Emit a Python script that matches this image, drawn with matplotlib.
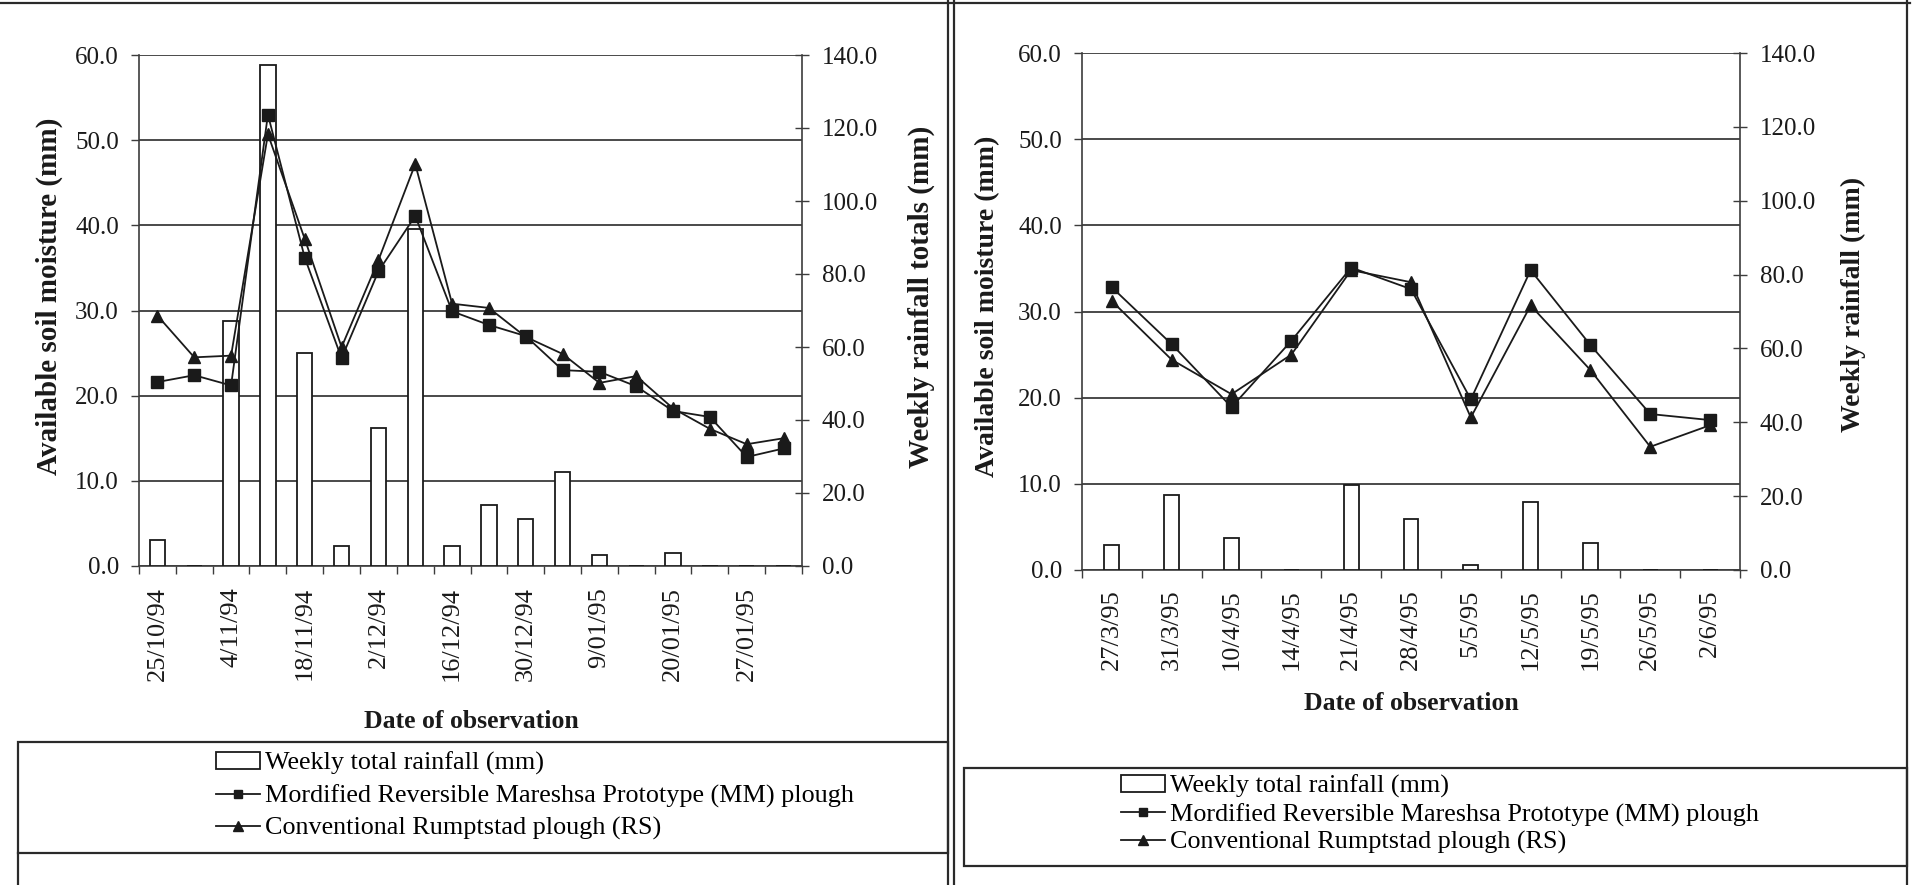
import matplotlib
matplotlib.use("Agg")
import matplotlib.pyplot as plt
from matplotlib.patches import Patch, Rectangle
from matplotlib.lines import Line2D
import numpy as np

# ---- Season 1 (Oct 1994 - Jan 1995) ----
dates_a = ['25/10/94', '', '4/11/94', '', '18/11/94', '', '2/12/94', '',
           '16/12/94', '', '30/12/94', '', '9/01/95', '', '20/01/95', '',
           '27/01/95', '']
rain_a = [7.0, 0.0, 67.0, 137.2, 58.4, 5.6, 37.7, 92.4, 5.6, 16.7, 12.8,
          25.8, 2.9, 0.0, 3.5, 0.0, 0.0, 0.0]
mm_a = [21.6, 22.4, 21.2, 53.0, 36.2, 24.4, 34.6, 41.1, 29.9, 28.3, 27.0,
        23.0, 22.8, 21.1, 18.2, 17.5, 12.8, 13.8]
rs_a = [29.4, 24.5, 24.7, 50.7, 38.4, 25.7, 35.9, 47.2, 30.8, 30.3, 26.9,
        24.9, 21.5, 22.3, 18.5, 16.1, 14.3, 15.0]

# ---- Season 2 (Mar - Jun 1995) ----
dates_b = ['27/3/95', '31/3/95', '10/4/95', '14/4/95', '21/4/95', '28/4/95',
           '5/5/95', '12/5/95', '19/5/95', '26/5/95', '2/6/95']
rain_b = [6.9, 20.4, 8.8, 0.0, 22.9, 13.7, 1.3, 18.5, 7.2, 0.0, 0.0]
mm_b = [32.8, 26.2, 18.9, 26.6, 35.1, 32.6, 19.8, 34.8, 26.1, 18.1, 17.4]
rs_b = [31.2, 24.4, 20.4, 25.0, 34.8, 33.4, 17.7, 30.7, 23.2, 14.3, 16.8]

rain_label = 'Weekly total rainfall (mm)'
mm_label = 'Mordified Reversible Mareshsa Prototype (MM) plough'
rs_label = 'Conventional Rumptstad plough (RS)'

SERIF = 'Liberation Serif'
INK = '#1a1a1a'
GRID = '#3c3c3c'

W, H = 1914, 885
fig = plt.figure(figsize=(W / 100, H / 100), dpi=100)
fig.patch.set_facecolor('white')


def fx(px):
    return px / W


def fy(py):
    return 1 - py / H


def panel(rect, dates, rain, mm, rs, bar_w, ylab_l, ylab_r, fs_lab,
          ylab_l_pos, ylab_r_pos, xlab_pos, xpad):
    x0, y0, x1, y1 = rect
    ax = fig.add_axes([fx(x0), fy(y1), fx(x1 - x0), (y1 - y0) / H])
    n = len(dates)
    x = np.arange(n)

    # soil-moisture axis (left) with its horizontal grid
    ax.set_xlim(-0.5, n - 0.5)
    ax.set_ylim(0, 60)
    ax.set_yticks(np.arange(0, 61, 10))
    ax.set_yticklabels([f'{v:.1f}' for v in np.arange(0, 61, 10)],
                       fontfamily=SERIF, fontsize=18, color=INK)
    ax.grid(axis='y', color=GRID, lw=1.3)
    ax.set_axisbelow(True)
    ax.tick_params(axis='y', direction='out', length=5.5, width=1.0,
                   color=GRID, pad=9)
    ax.set_xticks(x)
    ax.set_xticklabels(dates, rotation=90, fontfamily=SERIF, fontsize=19,
                       color=INK)
    ax.tick_params(axis='x', which='major', length=0, pad=xpad)
    ax.set_xticks(np.arange(n + 1) - 0.5, minor=True)
    ax.tick_params(axis='x', which='minor', direction='out', length=5.5,
                   width=1.0, color=GRID)
    for s in ('top', 'right'):
        ax.spines[s].set_visible(False)
    for s in ('left', 'bottom'):
        ax.spines[s].set_color(GRID)
        ax.spines[s].set_linewidth(1.2)

    # rainfall axis (right) with bars
    ax2 = ax.twinx()
    ax2.set_ylim(0, 140)
    ax2.set_yticks(np.arange(0, 141, 20))
    ax2.set_yticklabels([f'{v:.1f}' for v in np.arange(0, 141, 20)],
                        fontfamily=SERIF, fontsize=18, color=INK)
    ax2.tick_params(axis='y', direction='inout', length=10.5, width=1.0,
                    color=GRID, pad=9)
    for s in ('top', 'left', 'bottom'):
        ax2.spines[s].set_visible(False)
    ax2.spines['right'].set_color(GRID)
    ax2.spines['right'].set_linewidth(1.2)
    ax2.bar(x, rain, width=bar_w, facecolor='white', edgecolor=INK,
            linewidth=1.3)

    # moisture lines on top of the bars
    ax3 = ax.twinx()
    ax3.set_ylim(0, 60)
    ax3.axis('off')
    ax3.plot(x, rs, color=INK, lw=1.3, marker='^', ms=9, mfc=INK,
             mec=INK)
    ax3.plot(x, mm, color=INK, lw=1.3, marker='s', ms=8, mfc=INK,
             mec=INK)

    fig.text(fx(ylab_l_pos[0]), fy(ylab_l_pos[1]), ylab_l, rotation=90,
             ha='center', va='center', fontfamily=SERIF, fontweight='bold',
             fontsize=fs_lab, color=INK)
    fig.text(fx(ylab_r_pos[0]), fy(ylab_r_pos[1]), ylab_r, rotation=90,
             ha='center', va='center', fontfamily=SERIF, fontweight='bold',
             fontsize=fs_lab, color=INK)
    fig.text(fx(xlab_pos[0]), fy(xlab_pos[1]), 'Date of observation',
             ha='center', va='center', fontfamily=SERIF, fontweight='bold',
             fontsize=18.5, color=INK)
    return ax


panel((139, 55, 802, 566), dates_a, rain_a, mm_a, rs_a, 0.42,
      'Available soil moisture (mm)', 'Weekly rainfall totals (mm)', 21,
      (49, 296), (921, 297), (471, 721), 15)
panel((1082, 53, 1740, 570), dates_b, rain_b, mm_b, rs_b, 0.25,
      'Available soil moisture (mm)', 'Weekly rainfall (mm)', 20,
      (988, 306), (1853, 304), (1411, 704), 14)


# ---- legends ----
def legend(anchor, spacing):
    handles = [
        Patch(facecolor='white', edgecolor=INK, linewidth=1.3),
        Line2D([], [], color=INK, lw=1.3, marker='s', ms=6, mfc=INK),
        Line2D([], [], color=INK, lw=1.3, marker='^', ms=7, mfc=INK),
    ]
    fig.legend(handles, [rain_label, mm_label, rs_label], loc='upper left',
               bbox_to_anchor=(fx(anchor[0]), fy(anchor[1])),
               bbox_transform=fig.transFigure, frameon=False,
               prop={'family': SERIF, 'size': 18.8}, handlelength=1.68,
               handleheight=0.6, handletextpad=0.2, labelspacing=spacing,
               borderpad=0, borderaxespad=0)


legend((216, 752), 0.35)
legend((1121, 775), 0.18)


# ---- page frames ----
def box(x0, y0, x1, y1, lw=1.6):
    fig.add_artist(Rectangle((fx(x0), fy(y1)), fx(x1 - x0), (y1 - y0) / H,
                             transform=fig.transFigure, fill=False,
                             edgecolor='#2a2a2a', linewidth=lw))


def vline(x, y0, y1, lw=1.6):
    fig.add_artist(Line2D([fx(x), fx(x)], [fy(y0), fy(y1)],
                          transform=fig.transFigure, color='#2a2a2a', lw=lw))


def hline(y, x0, x1, lw=1.6):
    fig.add_artist(Line2D([fx(x0), fx(x1)], [fy(y), fy(y)],
                          transform=fig.transFigure, color='#2a2a2a', lw=lw))


box(18, 742, 948, 853)
vline(18, 853, 885)
box(964, 768, 1907, 866)
hline(3, 0, 1910)
vline(948, 0, 885)
vline(954, 0, 885)
vline(1907, 0, 885)

fig.savefig('out.png', dpi=100, facecolor='white')
